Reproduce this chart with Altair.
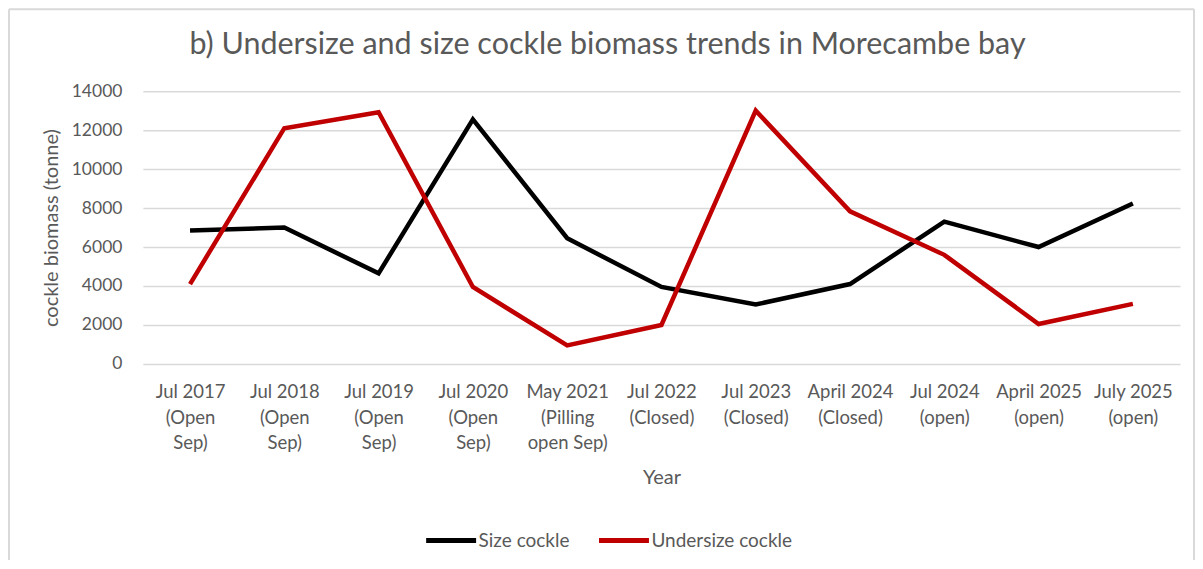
import altair as alt
import pandas as pd

categories = [
    "Jul 2017|(Open|Sep)", "Jul 2018|(Open|Sep)", "Jul 2019|(Open|Sep)",
    "Jul 2020|(Open|Sep)", "May 2021|(Pilling|open Sep)", "Jul 2022|(Closed)",
    "Jul 2023|(Closed)", "April 2024|(Closed)", "Jul 2024|(open)",
    "April 2025|(open)", "July 2025|(open)",
]
size_cockle = [6850, 7000, 4650, 12550, 6450, 3950, 3050, 4100, 7300, 6000, 8230]
undersize_cockle = [4100, 12100, 12920, 3950, 950, 2000, 13000, 7830, 5600, 2050, 3080]
series_names = ["Size cockle", "Undersize cockle"]
series_colors = ["#000000", "#c00000"]

rows = []
for name, vals in zip(series_names, [size_cockle, undersize_cockle]):
    for c, v in zip(categories, vals):
        rows.append({"cat": c, "series": name, "value": v})
df = pd.DataFrame(rows)

FONT = "Lato"
GREY = "#595959"
BORDER = "#d9d9d9"

lines = alt.Chart(df).mark_line(strokeWidth=4.5, strokeJoin="miter").encode(
    x=alt.X("cat:N", sort=categories, title="Year",
            scale=alt.Scale(type="point", padding=0.5),
            axis=alt.Axis(labelExpr="split(datum.label, '|')", labelAngle=0,
                          labelFont=FONT, labelFontSize=18.5, labelColor=GREY,
                          labelLineHeight=25.5, labelPadding=19, labelBaseline="top",
                          ticks=False, domain=False, grid=False,
                          titleFont=FONT, titleFontSize=20, titleColor=GREY,
                          titleFontWeight="normal", titlePadding=15)),
    y=alt.Y("value:Q", title="cockle biomass (tonne)",
            scale=alt.Scale(domain=[0, 14000], nice=False),
            axis=alt.Axis(values=list(range(0, 14001, 2000)), format="d",
                          labelFont=FONT, labelFontSize=17.5, labelColor=GREY,
                          labelPadding=21, ticks=False, domain=False,
                          gridColor=BORDER, gridWidth=1.5,
                          titleFont=FONT, titleFontSize=20, titleColor=GREY,
                          titleFontWeight="normal", titlePadding=10)),
    color=alt.Color("series:N", sort=series_names,
                    scale=alt.Scale(domain=series_names, range=series_colors),
                    legend=alt.Legend(title=None, orient="none", direction="horizontal",
                                      legendX=281, legendY=422,
                                      symbolType="stroke", symbolSize=2500,
                                      symbolStrokeWidth=5, labelFont=FONT,
                                      labelFontSize=19, labelColor=GREY,
                                      labelOffset=0, columnPadding=18)),
)

frame_df = pd.DataFrame({"a": [0]})
top_rule = alt.Chart(frame_df).mark_rule(stroke=BORDER, strokeWidth=2).encode(
    x=alt.value(-134), x2=alt.value(1052), y=alt.value(-82))
left_rule = alt.Chart(frame_df).mark_rule(stroke=BORDER, strokeWidth=2).encode(
    x=alt.value(-134), y=alt.value(-82), y2=alt.value(480))
right_rule = alt.Chart(frame_df).mark_rule(stroke=BORDER, strokeWidth=2).encode(
    x=alt.value(1052), y=alt.value(-82), y2=alt.value(480))

chart = alt.layer(top_rule, left_rule, right_rule, lines).properties(
    width=1038, height=273,
    padding={"left": 135, "top": 83, "right": 15, "bottom": 196},
    autosize=alt.AutoSizeParams(type="none"),
    title=alt.Title("b) Undersize and size cockle biomass trends in Morecambe bay",
                    font=FONT, fontSize=30.5, color=GREY, fontWeight="normal",
                    anchor="middle", dx=-54, offset=28, dy=80),
).configure_view(stroke=None)

chart.save("out.html", embed_options={"renderer": "svg", "actions": False})
